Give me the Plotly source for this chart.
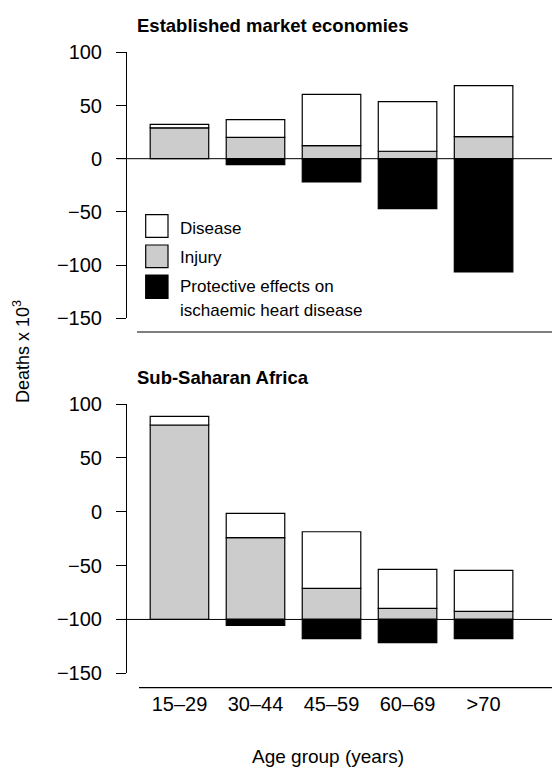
import plotly.graph_objects as go

# ---- data (deaths x 10^3) ----
categories = ["15–29", "30–44", "45–59", "60–69", ">70"]

eme_baseline = 0
eme_injury = [29, 20, 12.2, 7, 20.7]
eme_disease = [3.3, 16.7, 48.3, 46.6, 47.9]
eme_protective = [0, -5.6, -21.9, -47, -106.5]

ssa_baseline = -100
ssa_injury = [180.5, 75.9, 28.8, 10.2, 7.4]
ssa_disease = [8, 22.5, 52.6, 36.2, 38.1]
ssa_protective = [0, -5.6, -17.9, -21.6, -17.9]

yticks = [100, 50, 0, -50, -100, -150]

W, H = 552, 769
FONT = "Liberation Sans"
GRAY = "#cccccc"
BAR_W = 0.77
LINE_W = 1.2


def px(x):
    return x / W


def py(y):
    return 1 - y / H


fig = go.Figure()


def add_panel(injury, disease, protective, baseline, xa, ya):
    base_dis = [baseline + i for i in injury]
    fig.add_trace(go.Bar(x=categories, y=injury, base=[baseline] * len(injury),
                         marker=dict(color=GRAY, line=dict(color="black", width=LINE_W)),
                         width=BAR_W, xaxis=xa, yaxis=ya, showlegend=False, hoverinfo="skip"))
    fig.add_trace(go.Bar(x=categories, y=disease, base=base_dis,
                         marker=dict(color="white", line=dict(color="black", width=LINE_W)),
                         width=BAR_W, xaxis=xa, yaxis=ya, showlegend=False, hoverinfo="skip"))
    prot = [p if p != 0 else None for p in protective]
    fig.add_trace(go.Bar(x=categories, y=prot, base=[baseline] * len(protective),
                         marker=dict(color="black", line=dict(color="black", width=LINE_W)),
                         width=BAR_W, xaxis=xa, yaxis=ya, showlegend=False, hoverinfo="skip"))


add_panel(eme_injury, eme_disease, eme_protective, eme_baseline, "x", "y")
add_panel(ssa_injury, ssa_disease, ssa_protective, ssa_baseline, "x2", "y2")

xrange = [-0.69, 4.9]
xdom = [px(127), 1]

yax = dict(range=[-150, 100], tickvals=yticks, showline=True, linecolor="black", linewidth=1,
           ticks="outside", ticklen=10, tickcolor="black", tickwidth=1,
           tickfont=dict(family=FONT, size=20, color="black"), showgrid=False,
           zeroline=False, ticklabelstandoff=10, automargin=False)

fig.update_layout(
    width=W, height=H, margin=dict(l=0, r=0, t=0, b=0, autoexpand=False),
    paper_bgcolor="white", plot_bgcolor="white", barmode="overlay",
    xaxis=dict(domain=xdom, range=xrange, anchor="y", showticklabels=False,
               showline=False, showgrid=False, zeroline=False, ticks="", automargin=False),
    xaxis2=dict(domain=xdom, range=xrange, anchor="free", position=py(687.7),
                showline=False, showgrid=False, zeroline=False, ticks="", automargin=False,
                tickfont=dict(family=FONT, size=20, color="black"), ticklabelstandoff=2),
    yaxis=dict(domain=[py(318.3), py(52.3)], anchor="x", **yax),
    yaxis2=dict(domain=[py(673.3), py(404)], anchor="x2", **yax),
)

shapes = []
# baselines
shapes.append(dict(type="line", xref="x domain", yref="y", x0=-10 / 425, x1=1,
                   y0=eme_baseline, y1=eme_baseline, line=dict(color="black", width=1)))
shapes.append(dict(type="line", xref="x2 domain", yref="y2", x0=-10 / 425, x1=1,
                   y0=ssa_baseline, y1=ssa_baseline, line=dict(color="black", width=1)))
# separator lines
shapes.append(dict(type="line", xref="paper", yref="paper", x0=px(137), x1=1,
                   y0=py(332), y1=py(332), line=dict(color="black", width=1.2)))
shapes.append(dict(type="line", xref="paper", yref="paper", x0=px(139), x1=1,
                   y0=py(687.7), y1=py(687.7), line=dict(color="black", width=1.2)))

# legend boxes
legend_items = [("white", 214.7, 237.3), (GRAY, 245, 267.7), ("black", 275, 298.3)]
for col, y0, y1 in legend_items:
    shapes.append(dict(type="rect", xref="paper", yref="paper", x0=px(145.7), x1=px(168),
                       y0=py(y1), y1=py(y0), fillcolor=col, line=dict(color="black", width=1.2)))
fig.update_layout(shapes=shapes)

ann = []
legend_texts = [("Disease", 228), ("Injury", 257), ("Protective effects on", 286.7),
                ("ischaemic heart disease", 310.7)]
for t, y in legend_texts:
    ann.append(dict(text=t, xref="paper", yref="paper", x=px(178), y=py(y),
                    xanchor="left", yanchor="middle", showarrow=False,
                    font=dict(family=FONT, size=17, color="black")))

ann.append(dict(text="<b>Established market economies</b>", xref="paper", yref="paper",
                x=px(135), y=py(25.5), xanchor="left", yanchor="middle", showarrow=False,
                font=dict(family=FONT, size=18.5, color="black")))
ann.append(dict(text="<b>Sub-Saharan Africa</b>", xref="paper", yref="paper",
                x=px(135), y=py(377), xanchor="left", yanchor="middle", showarrow=False,
                font=dict(family=FONT, size=18.5, color="black")))
ann.append(dict(text="Age group (years)", xref="paper", yref="paper",
                x=px(328), y=py(756), xanchor="center", yanchor="middle", showarrow=False,
                font=dict(family=FONT, size=19, color="black")))
ann.append(dict(text="Deaths x 10<sup>3</sup>", xref="paper", yref="paper",
                x=px(21), y=py(352), xanchor="center", yanchor="middle", showarrow=False,
                textangle=-90, font=dict(family=FONT, size=18, color="black")))
fig.update_layout(annotations=ann)

fig.write_html("out.html", config={"displayModeBar": False},
               post_script="document.body.style.margin='0';document.body.style.overflow='hidden';")
